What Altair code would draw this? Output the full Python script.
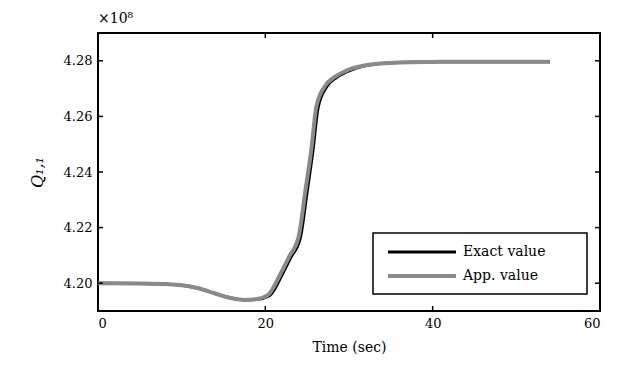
import altair as alt
import pandas as pd

time_exact = [0, 5, 10, 12, 14, 16, 17.5, 19, 20.5, 22, 23, 24.2, 25, 25.7, 26.3, 27.3, 28.5, 29.7, 32, 36, 40, 45, 54]
exact = [4.2000, 4.1999, 4.1993, 4.1982, 4.1963, 4.1946, 4.1940, 4.1942, 4.1955, 4.2030, 4.2090, 4.2165,
         4.2330, 4.2478, 4.2630, 4.2705, 4.2740, 4.2760, 4.2783, 4.2794, 4.2796, 4.2797, 4.2797]
time_app = [0, 5, 10, 12, 14, 16, 17.5, 19, 20.3, 21.8, 22.8, 24.0, 24.8, 25.5, 26.1, 27.1, 28.3, 29.5, 32, 36, 40, 45, 54]
app = [4.2000, 4.1999, 4.1993, 4.1982, 4.1963, 4.1946, 4.1940, 4.1943, 4.1957, 4.2033, 4.2093, 4.2170,
       4.2335, 4.2482, 4.2635, 4.2708, 4.2742, 4.2762, 4.2784, 4.2794, 4.2796, 4.2797, 4.2797]

x_ticks = [0, 20, 40, 60]
y_ticks = [4.20, 4.22, 4.24, 4.26, 4.28]
series_names = ["Exact value", "App. value"]
series_colors = ["#000000", "#8a8a8a"]
series_widths = [3, 4]

rows = []
for t, v in zip(time_exact, exact):
    rows.append({"t": t, "v": v, "s": series_names[0]})
for t, v in zip(time_app, app):
    rows.append({"t": t, "v": v, "s": series_names[1]})
df = pd.DataFrame(rows)

FONT = "DejaVu Serif"
xs = alt.Scale(domain=[0, 60], nice=False)
ys = alt.Scale(domain=[4.19, 4.29], nice=False, zero=False)
cscale = alt.Scale(domain=series_names, range=series_colors)
wscale = alt.Scale(domain=series_names, range=series_widths)

lines = alt.Chart(df).mark_line(interpolate="monotone").encode(
    x=alt.X("t:Q", scale=xs, axis=alt.Axis(values=x_ticks, title="Time (sec)", ticks=False,
                                            labelPadding=6, titlePadding=10, grid=False, domain=False)),
    y=alt.Y("v:Q", scale=ys, axis=alt.Axis(values=y_ticks, format=".2f", title="Q₁,₁", ticks=False,
                                            labelPadding=6, titlePadding=18, grid=False, domain=False,
                                            titleFontStyle="italic", titleFontSize=16)),
    color=alt.Color("s:N", scale=cscale, legend=None),
    strokeWidth=alt.StrokeWidth("s:N", scale=wscale, legend=None),
    order=alt.Order("s:N", sort="descending"),
)

ydf = pd.DataFrame({"v": y_ticks})
xdf = pd.DataFrame({"t": x_ticks})
ytl = alt.Chart(ydf).mark_rule(color="black", strokeWidth=1.5).encode(
    y=alt.Y("v:Q", scale=ys), x=alt.value(0), x2=alt.value(5))
ytr = alt.Chart(ydf).mark_rule(color="black", strokeWidth=1.5).encode(
    y=alt.Y("v:Q", scale=ys), x=alt.value(497), x2=alt.value(502))
xtb = alt.Chart(xdf).mark_rule(color="black", strokeWidth=1.5).encode(
    x=alt.X("t:Q", scale=xs), y=alt.value(273), y2=alt.value(278))
xtt = alt.Chart(xdf).mark_rule(color="black", strokeWidth=1.5).encode(
    x=alt.X("t:Q", scale=xs), y=alt.value(0), y2=alt.value(5))

# manual legend (box, sample lines, labels)
one = pd.DataFrame({"k": [0]})
legend_layers = [
    alt.Chart(one).mark_rect(fill="white", stroke="black", strokeWidth=1.5).encode(
        x=alt.value(275), x2=alt.value(489), y=alt.value(200), y2=alt.value(261))
]
row_y = [219, 243]
for name, col, w, yy in zip(series_names, series_colors, series_widths, row_y):
    legend_layers.append(alt.Chart(one).mark_rule(color=col, strokeWidth=w).encode(
        x=alt.value(290), x2=alt.value(358), y=alt.value(yy)))
    legend_layers.append(alt.Chart(one).mark_text(
        align="left", baseline="middle", font=FONT, fontSize=14, color="black", text=name).encode(
        x=alt.value(365), y=alt.value(yy)))

chart = alt.layer(lines, ytl, ytr, xtb, xtt, *legend_layers).properties(
    width=502, height=278,
    background="white",
    autosize=alt.AutoSizeParams(type="none"),
    padding={"left": 98, "top": 33, "right": 21, "bottom": 56},
    title=alt.Title("×10⁸", anchor="start", frame="group", font=FONT, fontSize=14, fontWeight="normal",
                    color="black", offset=6),
).configure_view(stroke="black", strokeWidth=2).configure_axis(
    labelFont=FONT, titleFont=FONT, labelFontSize=13, titleFontSize=14,
    labelColor="black", titleColor="black", titleFontWeight="normal"
)

chart.save("out.html", embed_options={"renderer": "svg", "actions": False})
